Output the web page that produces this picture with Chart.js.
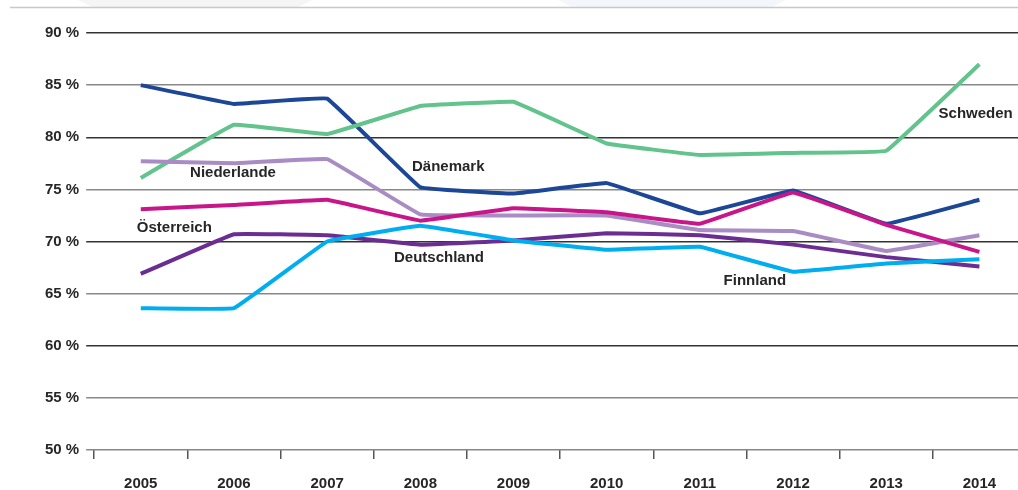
<!DOCTYPE html>
<html lang="de">
<head>
<meta charset="utf-8">
<title>Quote 2005–2014</title>
<script src="https://cdn.jsdelivr.net/npm/chart.js@4/dist/chart.umd.min.js"></script>
<style>
  html, body { margin: 0; padding: 0; background: #fff; overflow: hidden; }
  #wrap { position: relative; width: 1030px; height: 490px; }
</style>
</head>
<body>
<div id="wrap"><canvas id="lineChart"></canvas></div>
<script>
// Daten
const years = ['2005', '2006', '2007', '2008', '2009', '2010', '2011', '2012', '2013', '2014'];
const daenemark   = [85.0, 83.2, 83.7, 75.2, 74.6, 75.6, 72.7, 74.9, 71.7, 74.0];
const schweden    = [76.1, 81.2, 80.3, 83.0, 83.4, 79.4, 78.3, 78.5, 78.7, 87.0];
const niederlande = [77.7, 77.5, 77.9, 72.6, 72.5, 72.5, 71.1, 71.0, 69.1, 70.6];
const oesterreich = [73.1, 73.5, 74.0, 72.0, 73.2, 72.8, 71.7, 74.7, 71.6, 69.0];
const deutschland = [66.9, 70.7, 70.6, 69.7, 70.1, 70.8, 70.6, 69.7, 68.5, 67.6];
const finnland    = [63.6, 63.6, 70.0, 71.5, 70.1, 69.2, 69.5, 67.1, 67.9, 68.3];
const yTicks = [50, 55, 60, 65, 70, 75, 80, 85, 90];

const font = '"Liberation Sans", Arial, sans-serif';

// Beschriftungen im Diagramm (Position in Kategorie-Index / Prozentwert)
const seriesLabels = [
  { text: 'Niederlande', x: 0.99, y: 76.55 },
  { text: 'Österreich',  x: 0.36, y: 71.3 },
  { text: 'Dänemark',    x: 3.30, y: 77.2 },
  { text: 'Deutschland', x: 3.20, y: 68.4 },
  { text: 'Finnland',    x: 6.59, y: 66.2 },
  { text: 'Schweden',    x: 8.96, y: 82.2 },
];

const labelPlugin = {
  id: 'seriesLabels',
  beforeDraw(chart) {
    const c = chart.ctx;
    c.save();
    // dezente Kopfzeile
    c.fillStyle = '#f5f5f5';
    c.beginPath();
    c.moveTo(78, 0); c.lineTo(312, 0); c.lineTo(298, 7); c.lineTo(92, 7); c.closePath();
    c.fill();
    c.fillStyle = '#f3f6fa';
    c.beginPath();
    c.moveTo(558, 0); c.lineTo(786, 0); c.lineTo(772, 7); c.lineTo(572, 7); c.closePath();
    c.fill();
    c.strokeStyle = '#c8c8c8';
    c.lineWidth = 1.5;
    c.beginPath(); c.moveTo(10, 7.5); c.lineTo(chart.width, 7.5); c.stroke();
    c.restore();
  },
  afterDatasetsDraw(chart) {
    const c = chart.ctx;
    const xs = chart.scales.x, ys = chart.scales.y;
    c.save();
    c.font = 'bold 15px ' + font;
    c.fillStyle = '#262626';
    c.textAlign = 'center';
    c.textBaseline = 'middle';
    seriesLabels.forEach(l => {
      c.fillText(l.text, xs.getPixelForValue(l.x), ys.getPixelForValue(l.y));
    });
    c.restore();
  }
};

function line(label, data, color) {
  return {
    label, data,
    borderColor: color,
    backgroundColor: color,
    borderWidth: 4,
    pointRadius: 0,
    tension: 0.05,
    fill: false,
  };
}

new Chart(document.getElementById('lineChart'), {
  type: 'line',
  data: {
    labels: years,
    datasets: [
      line('Finnland', finnland, '#00aeef'),
      line('Deutschland', deutschland, '#6b2d91'),
      line('Österreich', oesterreich, '#c8168a'),
      line('Niederlande', niederlande, '#a98cc3'),
      line('Schweden', schweden, '#62c38d'),
      line('Dänemark', daenemark, '#1c4696'),
    ],
  },
  options: {
    responsive: true,
    maintainAspectRatio: false,
    animation: false,
    layout: { padding: { top: 33, left: 38, right: 4, bottom: 0 } },
    plugins: {
      legend: { display: false },
      tooltip: { enabled: false },
    },
    scales: {
      x: {
        offset: true,
        border: { display: false },
        afterFit: s => { s.height = 40; },
        grid: {
          offset: true,
          drawOnChartArea: false,
          drawTicks: true,
          tickLength: 9,
          color: '#555',
          lineWidth: 1.5,
        },
        ticks: {
          color: '#262626',
          font: { family: font, size: 15, weight: 'bold' },
          padding: 16,
          maxRotation: 0,
        },
      },
      y: {
        min: 50,
        max: 90,
        afterBuildTicks: axis => { axis.ticks = yTicks.map(v => ({ value: v })); },
        border: { display: false },
        grid: {
          color: ctx => (ctx.tick && ctx.tick.value % 10 === 0 && ctx.tick.value > 50) ? '#333' : '#888',
          lineWidth: 1.5,
          tickLength: 8,
        },
        ticks: {
          color: '#262626',
          font: { family: font, size: 15, weight: 'bold' },
          padding: 7,
          callback: v => v + ' %',
        },
      },
    },
  },
  plugins: [labelPlugin],
});
</script>
</body>
</html>
